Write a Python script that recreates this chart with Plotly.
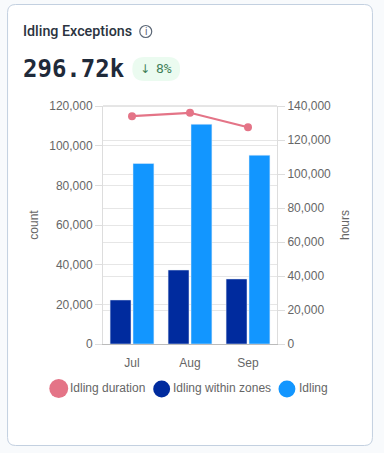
import plotly.graph_objects as go

W, H = 384, 453
months = ["Jul", "Aug", "Sep"]
idling_within_zones = [22200, 37300, 32800]
idling = [91000, 110800, 95200]
idling_duration = [134000, 136000, 127500]
count_ticks = [0, 20000, 40000, 60000, 80000, 100000, 120000]
hours_ticks = [0, 20000, 40000, 60000, 80000, 100000, 120000, 140000]

DARK, BLUE, PINK = "#002b9e", "#1296ff", "#e47487"
GREY = "#666666"
L, R, T, B = 102.5, 277.5, 106, 344
px = lambda v: (v - L) / (R - L)
py = lambda v: (B - v) / (B - T)


def rounded(x0, y0, x1, y1, r):
    p = lambda x, y: f"{px(x):.5f},{py(y):.5f}"
    return (f"M{p(x0 + r, y0)} L{p(x1 - r, y0)} Q{p(x1, y0)} {p(x1, y0 + r)} L{p(x1, y1 - r)} Q{p(x1, y1)} {p(x1 - r, y1)} "
            f"L{p(x0 + r, y1)} Q{p(x0, y1)} {p(x0, y1 - r)} L{p(x0, y0 + r)} Q{p(x0, y0)} {p(x0 + r, y0)} Z")


fig = go.Figure()
fig.add_bar(x=months, y=idling_within_zones, name="Idling within zones", marker_color=DARK, yaxis="y")
fig.add_bar(x=months, y=idling, name="Idling", marker_color=BLUE, yaxis="y")
fig.add_scatter(x=months, y=idling_duration, name="Idling duration", yaxis="y2", mode="lines+markers",
                line=dict(color=PINK, width=2.2), marker=dict(color=PINK, size=8))

axis_common = dict(showline=True, linecolor="#dddddd", linewidth=1, gridcolor="#e6e6e6", gridwidth=1,
                   ticks="outside", ticklen=7, tickcolor="#dddddd", tickfont=dict(family="Liberation Sans", size=12, color=GREY),
                   tickformat=",d", zeroline=False, title_font=dict(family="Liberation Sans", size=12, color=GREY))


def circle(x0, y0, x1, y1, **kw):
    return dict(type="circle", xref="paper", yref="paper", x0=px(x0), x1=px(x1), y0=py(y1), y1=py(y0), **kw)


shapes = [
    dict(type="path", xref="paper", yref="paper", path=rounded(6.5, 4.5, 373.5, 445.5, 8),
         line=dict(color="#c3d0e0", width=1), fillcolor="white", layer="below"),
    dict(type="path", xref="paper", yref="paper", path=rounded(132, 57, 180, 81, 12),
         line=dict(width=0), fillcolor="#ebfbf0", layer="below"),
    dict(type="line", xref="paper", yref="paper", x0=0, x1=1, y0=1, y1=1, line=dict(color="#cccccc", width=1)),
    circle(139.5, 25.5, 151.5, 37.5, line=dict(color="#5b6675", width=1.2)),
    circle(48.5, 379, 67.5, 398, line=dict(width=0), fillcolor=PINK),
    circle(153, 380.5, 170, 397.5, line=dict(width=0), fillcolor=DARK),
    circle(279, 380.5, 296, 397.5, line=dict(width=0), fillcolor=BLUE),
]


def note(text, x, y, size, color, family="Liberation Sans", anchor="left", weight=None):
    font = dict(family=family, size=size, color=color)
    if weight:
        font["weight"] = weight
    return dict(text=text, x=px(x), y=py(y), xref="paper", yref="paper", showarrow=False, xanchor=anchor, yanchor="middle",
                borderpad=0, font=font)


annotations = [
    note("Idling Exceptions", 21, 31, 14.3, "#2b3340", "Roboto", weight=500),
    note("i", 145.5, 31.5, 10, "#5b6675", "Roboto", anchor="center"),
    note("296.72k", 21, 69, 24, "#1f2a3a", "DejaVu Sans Mono", weight=700),
    note("↓", 145, 69, 12, "#3f7f57", "DejaVu Sans", anchor="center"),
    note("8%", 154.5, 68.5, 13, "#3f7f57", "DejaVu Sans Mono"),
    note("Idling duration", 68, 388, 12, GREY),
    note("Idling within zones", 171.5, 388, 12, GREY),
    note("Idling", 298.5, 388, 12, GREY),
]

fig.update_layout(
    width=W, height=H, margin=dict(l=L, r=W - R, t=T, b=H - B), autosize=False,
    paper_bgcolor="#f8fafc", plot_bgcolor="rgba(0,0,0,0)", showlegend=False,
    barmode="group", bargap=0.21, bargroupgap=0.087, shapes=shapes, annotations=annotations,
    xaxis=dict(showline=True, linecolor="#bbbbbb", linewidth=1, showgrid=False,
               ticks="", ticklabelstandoff=8, tickfont=dict(family="Liberation Sans", size=12, color=GREY), anchor="y"),
    yaxis=dict(range=[0, 120000], tickvals=count_ticks, title=dict(text="count", standoff=8), anchor="x", **axis_common),
    yaxis2=dict(overlaying="y", side="right", range=[0, 140000], tickvals=hours_ticks, title=dict(text="hours", standoff=10), anchor="x", **axis_common),
)

fig.write_html("out.html", config=dict(displayModeBar=False),
               post_script="document.body.style.margin='0';")
